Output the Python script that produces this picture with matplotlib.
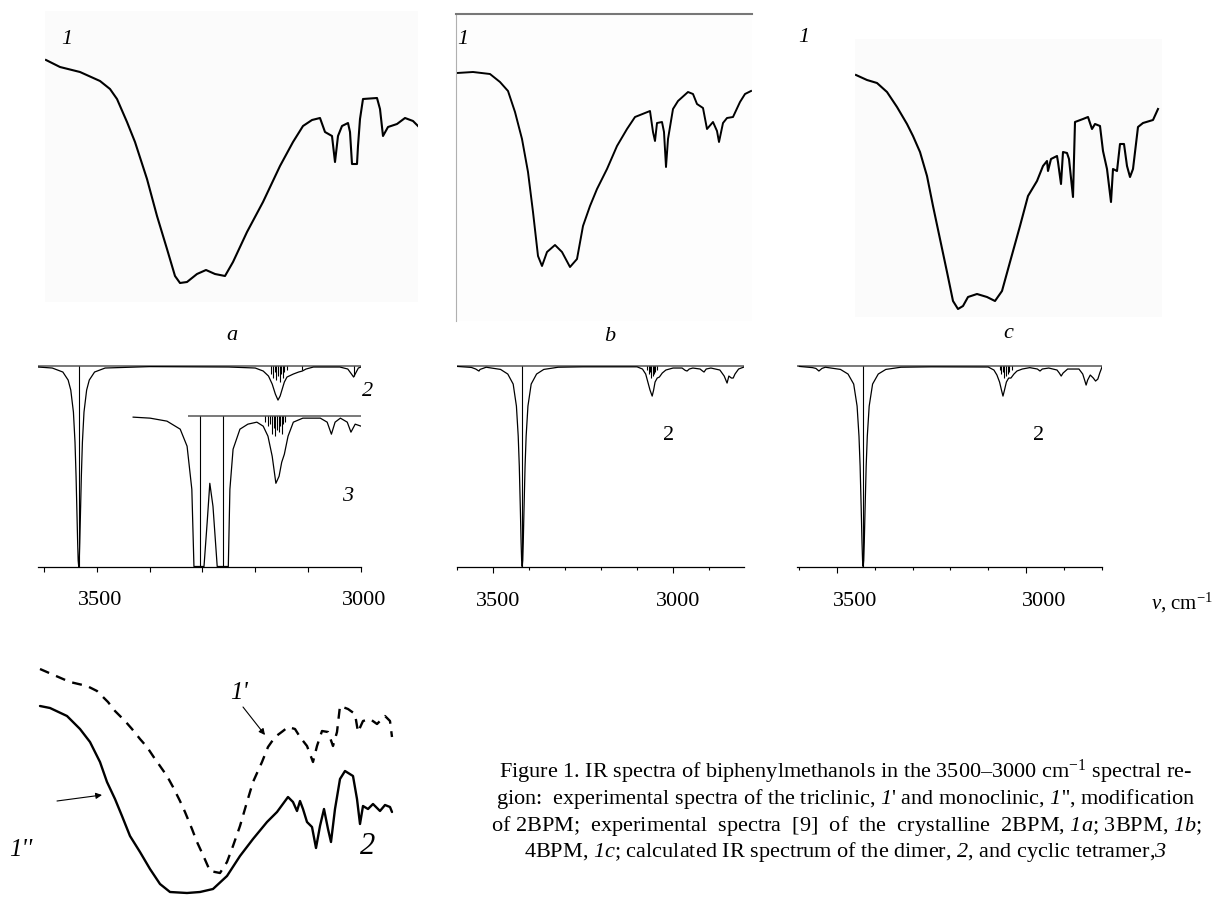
import matplotlib
matplotlib.use("Agg")
import matplotlib.pyplot as plt
import matplotlib.transforms as mtransforms

plt.rcParams['font.family'] = ['Liberation Serif', 'DejaVu Serif']
plt.rcParams['mathtext.fontset'] = 'custom'
plt.rcParams['mathtext.rm'] = 'Liberation Serif'
plt.rcParams['mathtext.it'] = 'Liberation Serif:italic'
# digits inside \mathit fall back to roman, so italic labels go through \mathsf
plt.rcParams['mathtext.sf'] = 'Liberation Serif:italic'
plt.rcParams['mathtext.bf'] = 'Liberation Serif:bold'

W, H = 1217, 904

#---------------------------- experimental spectra 1a, 1b, 1c (arb. transmittance) ----------------------------
exp_a_wn = [3600, 3572, 3532, 3492, 3472, 3458, 3438, 3422, 3398, 3378, 3358, 3342, 3332, 3318, 3298, 3280,
            3262, 3242, 3226, 3198, 3166, 3132, 3106, 3086, 3068, 3052, 3042, 3028, 3022, 3016, 3008, 2996,
            2992, 2988, 2978, 2976, 2972, 2966, 2938, 2932, 2926, 2916, 2898, 2882, 2866, 2856]
exp_a_t = [259, 252, 247, 238, 230, 220, 197, 177, 140, 103, 70, 43, 36, 37, 45, 49,
           45, 43, 57, 87, 117, 153, 177, 193, 199, 201, 187, 183, 157, 183, 193, 196,
           187, 155, 155, 173, 200, 220, 221, 210, 183, 192, 195, 201, 198, 193]

exp_b_wn = [3600, 3568, 3534, 3514, 3498, 3484, 3470, 3458, 3448, 3438, 3430, 3420, 3404, 3390, 3374, 3360,
            3348, 3334, 3320, 3300, 3280, 3260, 3244, 3214, 3208, 3204, 3200, 3190, 3186, 3182, 3178, 3168,
            3158, 3138, 3128, 3120, 3108, 3100, 3088, 3080, 3076, 3068, 3060, 3048, 3034, 3024, 3012]
exp_b_t = [256, 257, 255, 247, 238, 217, 190, 157, 117, 73, 63, 77, 84, 77, 62, 70,
           103, 123, 140, 160, 183, 200, 212, 218, 197, 188, 206, 207, 197, 162, 190, 220,
           228, 237, 235, 225, 221, 200, 207, 198, 187, 206, 211, 212, 227, 235, 238]

exp_c_wn = [3600, 3578, 3558, 3538, 3518, 3498, 3486, 3472, 3458, 3446, 3432, 3418, 3406, 3396, 3386, 3376,
            3358, 3338, 3322, 3308, 3292, 3272, 3256, 3238, 3226, 3218, 3216, 3210, 3198, 3196, 3190, 3186,
            3178, 3174, 3166, 3164, 3162, 3146, 3136, 3128, 3122, 3112, 3106, 3098, 3090, 3086, 3078, 3072,
            3064, 3058, 3052, 3046, 3036, 3026, 3006, 2996]
exp_c_t = [254, 249, 246, 237, 222, 205, 193, 177, 153, 123, 90, 57, 28, 20, 23, 32,
           35, 32, 28, 38, 67, 103, 133, 148, 163, 168, 158, 170, 173, 167, 145, 177,
           176, 170, 132, 170, 207, 210, 212, 200, 205, 203, 178, 160, 127, 160, 158, 185,
           185, 163, 152, 160, 202, 206, 209, 220]

#---------------------------- calculated spectra: dimer 2 and cyclic tetramer 3 ----------------------------
calc2a_wn = [3611, 3584, 3564, 3554, 3549, 3544, 3541, 3539, 3537, 3536, 3535, 3534, 3533, 3532, 3531, 3529,
             3527, 3524, 3519, 3514, 3504, 3484, 3400, 3250, 3200, 3185, 3175, 3168, 3162, 3157, 3153, 3149,
             3145, 3140, 3128, 3118, 3111, 3104, 3090, 3040, 3025, 3018, 3014, 3010, 3005, 3000]
calc2a_t = [99.5, 99, 97, 93, 88, 77, 62, 45, 23, 12, 3, 0, 3, 12, 23, 45,
            62, 77, 88, 93, 97, 99, 99.7, 99.5, 99, 97.5, 95, 91, 86, 83, 85, 88.5,
            92, 94.5, 96, 97, 97.5, 98.5, 99.5, 99.5, 98.5, 96, 94.5, 96.5, 99, 99.5]
sticks2a_wn = [3534, 3170, 3166, 3163, 3160, 3157, 3154, 3151, 3148, 3145, 3140, 3112, 3013]
sticks2a_d = [100, 4, 6, 3, 7, 5, 8, 4, 6, 3, 2, 2, 5]

calc3_wn = [3431, 3399, 3367, 3342, 3329, 3320, 3316, 3297, 3291, 3286, 3280, 3272, 3251, 3248, 3242, 3229,
            3214, 3197, 3185, 3176, 3168, 3161, 3155, 3150, 3145, 3138, 3128, 3110, 3077, 3064, 3056, 3049,
            3039, 3026, 3019, 3011, 3000]
calc3_t = [74.5, 74, 72.5, 68.5, 60, 38.5, 0, 0, 22, 41.5, 30, 0, 0, 38.5, 58.5, 68.5,
           71, 72, 70, 65, 55, 41.5, 45, 52, 56, 65, 72, 74, 74, 72, 66, 72,
           74, 72, 67, 71, 70]
sticks3_wn = [3305, 3261, 3182, 3176, 3172, 3168, 3165, 3162, 3159, 3156, 3153, 3150, 3147, 3143]
sticks3_d = [75, 75, 3, 5, 4, 9, 6, 10, 7, 8, 5, 9, 4, 3]
base3 = 75

calcb_wn = [3600, 3560, 3548, 3542, 3539, 3536, 3525, 3519, 3479, 3459, 3444, 3435, 3430, 3427, 3424, 3422,
            3420.5, 3419, 3417.5, 3416, 3414, 3411, 3408, 3403, 3394, 3379, 3359, 3319, 3250, 3100, 3085, 3076,
            3070, 3064, 3058, 3054, 3050, 3044, 3038, 3030, 3020, 3000, 2975, 2966, 2961, 2955, 2945, 2925,
            2918, 2914, 2908, 2895, 2870, 2858, 2850, 2845, 2838, 2833, 2828, 2818, 2803]
calcb_t = [99.8, 99.3, 98.5, 97.8, 97.5, 98.3, 99, 99.4, 98.3, 96, 91, 80, 65, 50, 28, 12,
           3, 0, 3, 12, 28, 50, 65, 80, 91, 96, 98.3, 99.4, 99.6, 99.6, 98.5, 96,
           92, 88, 85, 88, 92, 94, 94.5, 96.5, 98, 99, 99, 97.8, 97.5, 98.5, 99, 98.5,
           97.5, 97, 98.5, 99, 98, 95, 91.5, 95, 94, 94, 96, 98.5, 99.5]
sticksb_wn = [3419, 3072, 3068, 3064, 3060, 3057, 3053, 3049, 3044]
sticksb_d = [100, 2, 4, 3, 6, 5, 4, 3, 2]

calcc_wn = [3600, 3565, 3556, 3548, 3540, 3531, 3491, 3471, 3456, 3447, 3442, 3439, 3436, 3434, 3432.5, 3431,
            3429.5, 3428, 3426, 3423, 3420, 3415, 3406, 3391, 3371, 3331, 3250, 3100, 3085, 3077, 3070, 3065,
            3061, 3057, 3052, 3046, 3040, 3032, 3024, 3010, 2990, 2970, 2963, 2957, 2940, 2918, 2912, 2907,
            2902, 2890, 2860, 2850, 2845, 2841, 2837, 2830, 2822, 2816, 2810, 2805, 2799]
calcc_t = [99.8, 99.2, 98.8, 97.5, 98.8, 99.4, 98.3, 96, 91, 80, 65, 50, 28, 12, 3, 0,
           3, 12, 28, 50, 65, 80, 91, 96, 98.3, 99.4, 99.6, 99.5, 98, 95.5, 92, 88,
           85, 88, 92, 94, 94, 96, 97.5, 98.5, 99.2, 98.5, 97.5, 98.5, 99, 98, 96.5, 95,
           96.5, 98.5, 98.5, 96, 93, 90.5, 93, 95.5, 94, 92.5, 93.5, 96.5, 99.5]
sticksc_wn = [3431, 3069, 3065, 3061, 3057, 3053, 3049, 3044, 3038]
sticksc_d = [100, 2, 4, 3, 6, 5, 4, 3, 2]

#---------------------------- triclinic 1' and monoclinic 1'' 2BPM ----------------------------
tri_wn = [3600, 3554, 3540, 3506, 3486, 3464, 3450, 3430, 3416, 3400, 3386, 3370, 3360, 3346, 3334, 3320,
          3310, 3296, 3286, 3274, 3260, 3240, 3226, 3214, 3200, 3186, 3174, 3156, 3144, 3130, 3114, 3104,
          3090, 3080, 3066, 3054, 3046, 3036, 3024, 3014, 3006, 3000, 2984, 2970, 2964, 2954, 2940, 2926,
          2910, 2900, 2896]
tri_t = [240, 230, 227, 223, 218, 207, 198, 188, 180, 170, 162, 150, 143, 133, 122, 108,
         97, 80, 67, 54, 38, 36, 47, 63, 83, 107, 127, 147, 162, 172, 178, 182,
         180, 172, 163, 147, 163, 178, 177, 163, 177, 203, 200, 195, 177, 188, 190, 185,
         193, 188, 172]
mono_wn = [3600, 3580, 3546, 3520, 3500, 3480, 3466, 3450, 3436, 3420, 3400, 3380, 3360, 3340, 3306, 3280,
           3254, 3226, 3200, 3174, 3146, 3126, 3104, 3094, 3086, 3080, 3074, 3066, 3056, 3048, 3040, 3032,
           3024, 3018, 3010, 3000, 2990, 2974, 2966, 2960, 2954, 2944, 2934, 2920, 2910, 2900, 2896]
mono_t = [203, 201, 193, 180, 167, 147, 127, 110, 93, 73, 57, 40, 25, 17, 16, 17,
          20, 33, 53, 70, 87, 97, 112, 107, 98, 108, 100, 87, 82, 61, 83, 100,
          80, 67, 100, 130, 138, 133, 110, 85, 103, 100, 105, 98, 104, 102, 97]

caption = [
    r"Figure 1. IR spectra of biphenylmethanols in the 3500–3000 cm$^{-1}$ spectral re-",
    r"gion:  experimental spectra of the triclinic, $\mathsf{1}$' and monoclinic, $\mathsf{1}$'', modification",
    r"of 2BPM;  experimental  spectra  [9]  of  the  crystalline  2BPM, $\mathsf{1a}$; 3BPM, $\mathsf{1b}$;",
    r"4BPM, $\mathsf{1c}$; calculated IR spectrum of the dimer, $\mathsf{2}$, and cyclic tetramer,$\mathsf{3}$",
]

fig = plt.figure(figsize=(W / 100, H / 100), dpi=100)


def box(x0, y0, x1, y1):
    return fig.add_axes([x0 / W, 1 - y1 / H, (x1 - x0) / W, (y1 - y0) / H])


def at(x, y):
    return x / W, 1 - y / H


def label(x, y, s, size=16, style='italic'):
    fig.text(*at(x, y), s, fontsize=size, style=style, ha='center', va='center')


def bare(ax):
    ax.set_xticks([])
    ax.set_yticks([])
    for sp in ax.spines.values():
        sp.set_visible(False)


#-------------------------------top row: experimental-------------------------------
ax = box(45, 12, 418, 303)
ax.plot(exp_a_wn, exp_a_t, color='black', lw=1.5)
ax.set_xlim(3602, 2856)
ax.set_ylim(17, 308)
bare(ax)
ax.set_facecolor('#fbfbfb')

ax = box(456, 15, 752, 322)
ax.plot(exp_b_wn, exp_b_t, color='black', lw=1.4)
ax.set_xlim(3602, 3010)
ax.set_ylim(8, 315)
bare(ax)
ax.set_facecolor('#fdfdfd')
ax.spines['top'].set_visible(True)
ax.spines['top'].set_color('#777777')
ax.spines['top'].set_linewidth(1.5)
ax.spines['left'].set_visible(True)
ax.spines['left'].set_color('#b0b0b0')
ax.spines['left'].set_linewidth(0.8)

ax = box(855, 40, 1162, 318)
ax.plot(exp_c_wn, exp_c_t, color='black', lw=1.5)
ax.set_xlim(3602, 2988)
ax.set_ylim(12, 290)
bare(ax)
ax.set_facecolor('#fbfbfb')

label(67, 39, '1')
label(463, 39, '1')
label(804, 38, '1')
label(232, 335, 'a')
label(610, 337, 'b')
label(1008, 333, 'c')


#-------------------------------middle row: calculated-------------------------------
def calc_axes(x0, x1, xlim, dx, long_major):
    ax = box(x0, 360, x1, 567.5)
    ax.set_xlim(*xlim)
    ax.set_ylim(0, 103.5)
    for k in ['top', 'left', 'right']:
        ax.spines[k].set_visible(False)
    ax.spines['bottom'].set_linewidth(0.9)
    ax.set_yticks([])
    ax.set_xticks([3500, 3000])
    ax.set_xticks([t for t in range(3600, 2799, -100) if xlim[1] <= t <= xlim[0] and t not in (3500, 3000)],
                  minor=True)
    ax.tick_params(axis='x', which='major', direction='out', length=4.5 if long_major else 3.6,
                   width=0.8, labelsize=16, pad=13)
    ax.tick_params(axis='x', which='minor', direction='out', length=2.2 if long_major else 3.6, width=0.8)
    off = mtransforms.ScaledTranslation(dx / 100, 0, fig.dpi_scale_trans)
    for lab in ax.get_xticklabels():
        lab.set_transform(lab.get_transform() + off)
    ax.axhline(100, color='#6e6e6e', lw=1.3, zorder=1)
    return ax


ax = calc_axes(38, 361, (3611, 3000), 3, False)
ax.plot(calc2a_wn, calc2a_t, color='black', lw=0.9)
ax.vlines(sticks2a_wn, [100 - d for d in sticks2a_d], 100, color='black', lw=0.8)
ax.hlines(base3, 3327, 3000, color='#6e6e6e', lw=1.3)
ax.plot(calc3_wn, calc3_t, color='black', lw=0.9)
ax.vlines(sticks3_wn, [base3 - d for d in sticks3_d], base3, color='black', lw=0.8)
label(368, 392, '2')
label(348, 497, '3')

ax = calc_axes(457, 744, (3600, 2803), 5, True)
ax.plot(calcb_wn, calcb_t, color='black', lw=0.9)
ax.vlines(sticksb_wn, [100 - d for d in sticksb_d], 100, color='black', lw=0.8)
label(669, 436, '2', style='normal')

ax = calc_axes(797, 1102, (3606, 2799), 18, True)
ax.plot(calcc_wn, calcc_t, color='black', lw=0.9)
ax.vlines(sticksc_wn, [100 - d for d in sticksc_d], 100, color='black', lw=0.8)
label(1039, 436, '2', style='normal')

fig.text(*at(1213, 603), r'$\nu$, cm$^{-1}$', fontsize=15, ha='right', va='center')

#-------------------------------bottom: 1' and 1''-------------------------------
ax = box(0, 650, 410, 904)
ax.plot(tri_wn, tri_t, color='black', lw=1.7, linestyle=(0, (4.2, 3.2)))
ax.plot(mono_wn, mono_t, color='black', lw=1.7, solid_capstyle='round', solid_joinstyle='round')
ax.set_xlim(3680, 2860)
ax.set_ylim(6, 260)
bare(ax)
arrow = dict(arrowstyle='-|>', lw=0.8, color='black', mutation_scale=9, shrinkA=0, shrinkB=0)
ax.annotate('', xy=(3150, 174), xytext=(3194, 202), arrowprops=arrow)
ax.annotate('', xy=(3476, 114), xytext=(3566, 108), arrowprops=arrow)
label(239, 693, "1'", size=18)
label(21, 850, "1''", size=18)
label(368, 847, '2', size=22)

for i, line in enumerate(caption):
    fig.text(*at(846, 772 + 26.8 * i), line, fontsize=16, ha='center', va='center')

fig.savefig('out.png', dpi=100)
